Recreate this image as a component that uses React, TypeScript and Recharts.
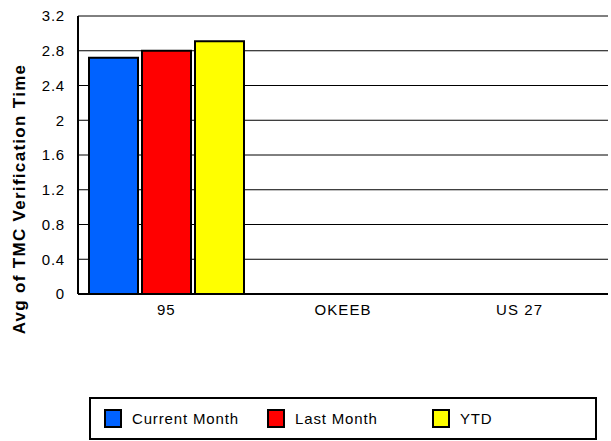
import { Bar, BarChart, CartesianGrid, Legend, XAxis, YAxis } from "recharts";

const categories = ["95", "OKEEB", "US 27"];
const currentMonth = [2.72, null, null];
const lastMonth = [2.8, null, null];
const ytd = [2.91, null, null];
const yTicks = [0, 0.4, 0.8, 1.2, 1.6, 2, 2.4, 2.8, 3.2];

const series = [
  { key: "current", name: "Current Month", color: "#0062FF", values: currentMonth },
  { key: "last", name: "Last Month", color: "#FF0000", values: lastMonth },
  { key: "ytd", name: "YTD", color: "#FFFF00", values: ytd }
];

const data = categories.map((label, i) => {
  const row: Record<string, string | number | null> = { label };
  series.forEach((s) => {
    row[s.key] = s.values[i];
  });
  return row;
});

const font = "'Liberation Sans', Arial, sans-serif";
const legendX = [13, 176, 341];

function LegendBox() {
  return (
    <div style={{ position: "relative", width: "100%", height: "100%", fontFamily: font }}>
      {series.map((s, i) => (
        <div key={s.key}>
          <div
            style={{
              position: "absolute",
              left: legendX[i],
              top: 10,
              width: 18,
              height: 19,
              boxSizing: "border-box",
              border: "2px solid #000",
              background: s.color
            }}
          />
          <span
            style={{
              position: "absolute",
              left: legendX[i] + 28,
              top: 10,
              fontSize: 15,
              lineHeight: "19px",
              letterSpacing: 0.85,
              color: "#000"
            }}
          >
            {s.name}
          </span>
        </div>
      ))}
    </div>
  );
}

export default function App() {
  return (
    <div style={{ position: "absolute", left: 0, top: 0, width: 611, height: 441, background: "#fff" }}>
      <BarChart
        width={611}
        height={441}
        data={data}
        margin={{ top: 16, right: 3, left: 0, bottom: 117 }}
        barCategoryGap={11}
        barGap={4}
      >
        <CartesianGrid vertical={false} stroke="#000" strokeWidth={1} />
        <XAxis
          dataKey="label"
          height={30}
          axisLine={{ stroke: "#000", strokeWidth: 2 }}
          tickLine={false}
          tick={{ fill: "#000", fontSize: 15, fontFamily: font, letterSpacing: 1.1 }}
          tickMargin={4}
        />
        <YAxis
          width={78}
          domain={[0, 3.2]}
          ticks={yTicks}
          interval={0}
          axisLine={{ stroke: "#000", strokeWidth: 2 }}
          tickLine={false}
          tickMargin={7}
          tick={{ fill: "#000", fontSize: 15, fontFamily: font, letterSpacing: 0.8 }}
          label={{
            content: () => (
              <text
                x={25}
                y={199}
                transform="rotate(-90, 25, 199)"
                textAnchor="middle"
                fontFamily={font}
                fontWeight="bold"
                fontSize={17}
                letterSpacing={1.3}
                fill="#000"
              >
                Avg of TMC Verification Time
              </text>
            )
          }}
        />
        <Legend
          layout="horizontal"
          verticalAlign="middle"
          align="center"
          content={() => <LegendBox />}
          wrapperStyle={{
            position: "absolute",
            left: 89,
            top: 397,
            width: 508,
            height: 43,
            boxSizing: "border-box",
            border: "2px solid #000",
            background: "#fff"
          }}
        />
        {series.map((s) => (
          <Bar
            key={s.key}
            dataKey={s.key}
            name={s.name}
            fill={s.color}
            stroke="#000"
            strokeWidth={2}
            isAnimationActive={false}
          />
        ))}
      </BarChart>
    </div>
  );
}
